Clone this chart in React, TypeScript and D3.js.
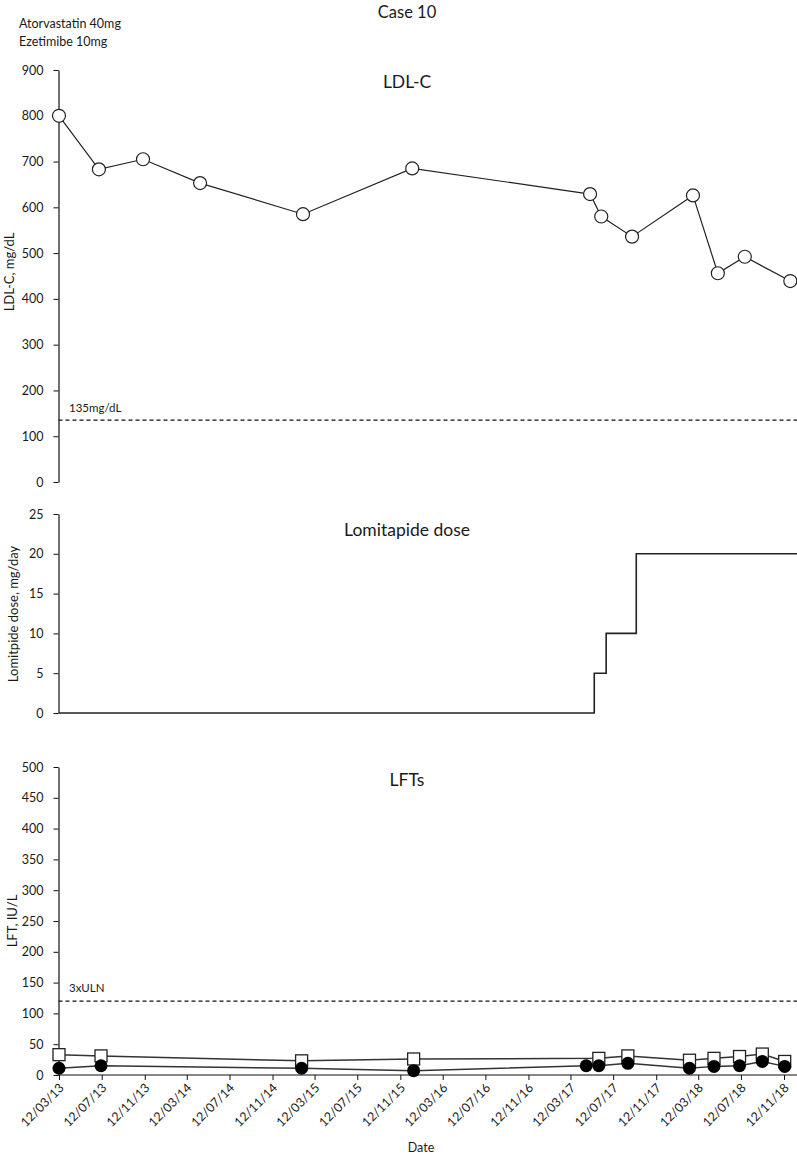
import React, { useEffect, useRef } from 'react';
import * as d3 from 'd3';

// x axis tick labels (dd/mm/yy)
const tickLabels = [
  '12/03/13', '12/07/13', '12/11/13', '12/03/14', '12/07/14', '12/11/14',
  '12/03/15', '12/07/15', '12/11/15', '12/03/16', '12/07/16', '12/11/16',
  '12/03/17', '12/07/17', '12/11/17', '12/03/18', '12/07/18', '12/11/18',
];

// LDL-C, mg/dL
const ldlDates = [
  '2013-03-12', '2013-07-04', '2013-11-07', '2014-04-19', '2015-02-07', '2015-12-16',
  '2017-05-07', '2017-06-08', '2017-09-04', '2018-02-25', '2018-05-07', '2018-07-23', '2018-11-30',
];
const ldlValues = [800, 683, 705, 653, 585, 685, 629, 580, 536, 626, 456, 492, 439];
const ldlTicks = [0, 100, 200, 300, 400, 500, 600, 700, 800, 900];
const ldlTarget = 135;

// Lomitapide dose, mg/day (step changes)
const doseDates = ['2013-03-12', '2017-05-19', '2017-06-22', '2017-09-16', '2018-12-20'];
const doseValues = [0, 5, 10, 20, 20];
const doseTicks = [0, 5, 10, 15, 20, 25];

// LFTs, IU/L
const squareDates = [
  '2013-03-12', '2013-07-10', '2015-02-03', '2015-12-20', '2017-06-01', '2017-08-23',
  '2018-02-15', '2018-04-26', '2018-07-08', '2018-09-11', '2018-11-14',
];
const squareValues = [33, 31, 23, 26, 27, 31, 24, 27, 30, 34, 22];
const circleDates = [
  '2013-03-12', '2013-07-10', '2015-02-03', '2015-12-20', '2017-04-26', '2017-06-01',
  '2017-08-23', '2018-02-15', '2018-04-26', '2018-07-08', '2018-09-11', '2018-11-14',
];
const circleValues = [11, 15, 11, 7, 15, 15, 19, 11, 14, 15, 22, 14];
const lftTicks = [0, 50, 100, 150, 200, 250, 300, 350, 400, 450, 500];
const lftLimit = 120;

const App = () => {
  const svgRef = useRef(null);
  const svgWidth = 797;
  const svgHeight = 1158;
  const font = 'Lato, "Open Sans", sans-serif';
  const axisX = 58.5;
  const rightEdge = 797;

  useEffect(() => {
    const svg = d3.select(svgRef.current);
    svg.selectAll('*').remove();

    const parse = d3.timeParse('%Y-%m-%d');
    const parseTick = d3.timeParse('%d/%m/%y');
    const tickDates = tickLabels.map(t => parseTick(t));

    const x = d3.scaleTime()
      .domain([tickDates[0], tickDates[tickDates.length - 1]])
      .range([59, 784]);

    const yLdl = d3.scaleLinear().domain([0, 900]).range([482, 70]);
    const yDose = d3.scaleLinear().domain([0, 25]).range([713, 514]);
    const yLft = d3.scaleLinear().domain([0, 500]).range([1075, 767]);

    const drawY = (scale, ticks) => {
      const g = svg.append('g')
        .attr('transform', `translate(${axisX},0)`)
        .call(d3.axisLeft(scale).tickValues(ticks).tickSize(5).tickSizeOuter(0).tickPadding(10));
      g.select('.domain').attr('stroke', '#111').attr('stroke-width', 1.2);
      g.selectAll('.tick line').attr('stroke', '#111');
      g.selectAll('text')
        .attr('font-family', font)
        .attr('font-size', 12.5)
        .attr('fill', '#1a1a1a');
    };
    drawY(yLdl, ldlTicks);
    drawY(yDose, doseTicks);
    drawY(yLft, lftTicks);

    // x axis for LFT panel
    const xg = svg.append('g')
      .attr('transform', 'translate(0,1075)')
      .call(d3.axisBottom(x).tickValues(tickDates).tickSize(5).tickSizeOuter(0)
        .tickFormat((d, i) => tickLabels[i]));
    xg.select('.domain').remove();
    xg.append('line')
      .attr('x1', axisX).attr('x2', rightEdge)
      .attr('stroke', '#111').attr('stroke-width', 1.2);
    xg.selectAll('.tick line').attr('stroke', '#111');
    xg.selectAll('text')
      .attr('font-family', font)
      .attr('font-size', 12.5)
      .attr('fill', '#1a1a1a')
      .attr('x', -6)
      .attr('y', 9)
      .attr('dy', '0.35em')
      .attr('transform', 'rotate(-45)')
      .style('text-anchor', 'end');

    // reference lines
    const refLine = (yPos) => {
      svg.append('line')
        .attr('x1', axisX).attr('x2', rightEdge)
        .attr('y1', yPos).attr('y2', yPos)
        .attr('stroke', '#111')
        .attr('stroke-width', 1.2)
        .attr('stroke-dasharray', '4,3');
    };
    refLine(yLdl(ldlTarget));
    refLine(yLft(lftLimit));

    const label = (text, px, py, size, anchor = 'start') => {
      svg.append('text')
        .attr('x', px).attr('y', py)
        .attr('dy', '0.35em')
        .attr('font-family', font)
        .attr('font-size', size)
        .attr('fill', '#1a1a1a')
        .attr('text-anchor', anchor)
        .text(text);
    };
    label(`${ldlTarget}mg/dL`, 69, yLdl(ldlTarget) - 12, 11.5);
    label('3xULN', 69, yLft(lftLimit) - 13, 11.5);

    // LDL-C line and markers
    const ldl = ldlDates.map((d, i) => ({ date: parse(d), value: ldlValues[i] }));
    svg.append('path')
      .datum(ldl)
      .attr('fill', 'none')
      .attr('stroke', '#222')
      .attr('stroke-width', 1.2)
      .attr('d', d3.line().x(d => x(d.date)).y(d => yLdl(d.value)));
    svg.append('g')
      .selectAll('circle')
      .data(ldl)
      .enter().append('circle')
      .attr('cx', d => x(d.date))
      .attr('cy', d => yLdl(d.value))
      .attr('r', 6.5)
      .attr('fill', '#fff')
      .attr('stroke', '#222')
      .attr('stroke-width', 1.2);

    // dose step line
    const dose = doseDates.map((d, i) => ({ date: parse(d), value: doseValues[i] }));
    svg.append('path')
      .datum(dose)
      .attr('fill', 'none')
      .attr('stroke', '#222')
      .attr('stroke-width', 1.6)
      .attr('d', d3.line().curve(d3.curveStepAfter).x(d => x(d.date)).y(d => yDose(d.value)));

    // LFT series
    const sq = squareDates.map((d, i) => ({ date: parse(d), value: squareValues[i] }));
    const ci = circleDates.map((d, i) => ({ date: parse(d), value: circleValues[i] }));
    const lftLine = d3.line().x(d => x(d.date)).y(d => yLft(d.value));
    svg.append('path').datum(sq)
      .attr('fill', 'none').attr('stroke', '#333').attr('stroke-width', 1.5)
      .attr('d', lftLine);
    svg.append('path').datum(ci)
      .attr('fill', 'none').attr('stroke', '#333').attr('stroke-width', 1.5)
      .attr('d', lftLine);
    svg.append('g')
      .selectAll('rect')
      .data(sq)
      .enter().append('rect')
      .attr('x', d => x(d.date) - 6)
      .attr('y', d => yLft(d.value) - 6)
      .attr('width', 12)
      .attr('height', 12)
      .attr('fill', '#fff')
      .attr('stroke', '#222')
      .attr('stroke-width', 1.3);
    svg.append('g')
      .selectAll('circle')
      .data(ci)
      .enter().append('circle')
      .attr('cx', d => x(d.date))
      .attr('cy', d => yLft(d.value))
      .attr('r', 6.5)
      .attr('fill', '#000');

    // titles and annotations
    label('Case 10', 407, 12, 16.5, 'middle');
    label('Atorvastatin 40mg', 19, 24, 12.5);
    label('Ezetimibe 10mg', 19, 42, 12.5);
    label('LDL-C', 407, 82, 17.5, 'middle');
    label('Lomitapide dose', 407, 530, 17.5, 'middle');
    label('LFTs', 407, 780, 17.5, 'middle');
    label('Date', 421, 1148, 12.5, 'middle');

    const yTitle = (text, px, py) => {
      svg.append('text')
        .attr('transform', `translate(${px},${py}) rotate(-90)`)
        .attr('dy', '0.35em')
        .attr('font-family', font)
        .attr('font-size', 13)
        .attr('fill', '#1a1a1a')
        .attr('text-anchor', 'middle')
        .text(text);
    };
    yTitle('LDL-C, mg/dL', 9, 272);
    yTitle('Lomitpide dose, mg/day', 13, 614);
    yTitle('LFT, IU/L', 12, 921);
  }, []);

  return (
    <svg
      ref={svgRef}
      width={svgWidth}
      height={svgHeight}
      style={{ position: 'absolute', left: 0, top: 0, background: '#fff' }}
    ></svg>
  );
};

export default App;
